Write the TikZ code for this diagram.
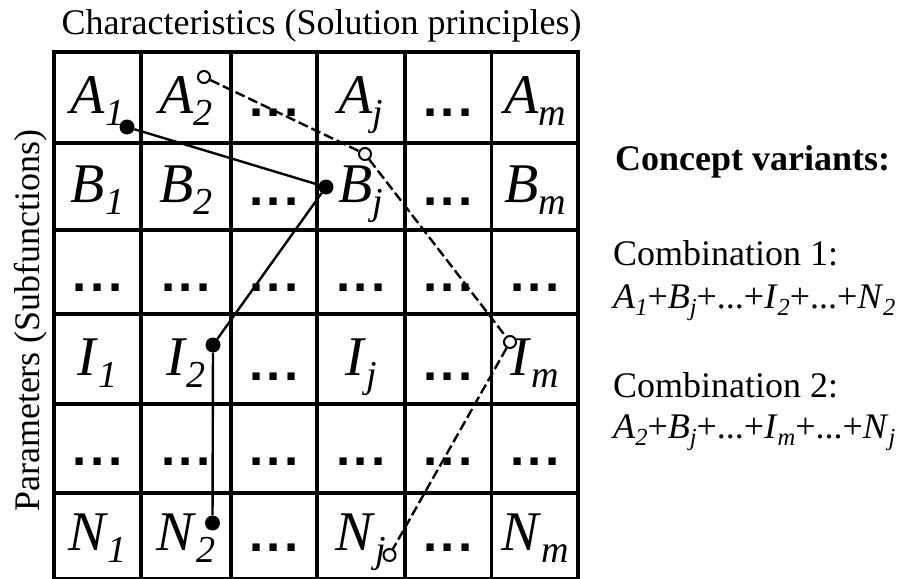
\documentclass[tikz,border=0pt]{standalone}
\usepackage{fontspec}
\setmainfont{Liberation Serif}
\newfontfamily\dotfont{Liberation Sans}
\usepackage{graphicx}
\usepackage{tikz}

\newcommand{\ent}[2]{\textit{#1}\raisebox{-0.22em}{\scalebox{0.68}{\textit{#2}}}}
\newcommand{\tridots}{.\kern0.07em.\kern0.07em.}

\begin{document}
\begin{tikzpicture}[x=1pt,y=-1pt,
  cell/.style={font=\fontsize{56}{60}\selectfont, anchor=base, inner sep=0pt},
  celldots/.style={font=\fontsize{51}{55}\selectfont\dotfont\bfseries, anchor=base, inner sep=0pt},
  txt/.style={font=\fontsize{36}{40}\selectfont, inner sep=0pt},
  dotfull/.style={circle, fill=black, inner sep=0pt, minimum size=15pt},
  dotopen/.style={circle, draw=black, fill=white, line width=2pt, inner sep=0pt, minimum size=12pt},
  link/.style={line width=2.4pt}]
  \useasboundingbox (0,0) rectangle (899,578);

  % grid
  \draw[line width=3.2pt] (54,52) -- (54,578) (141,52) -- (141,578) (231,52) -- (231,578)
    (317,52) -- (317,578) (405,52) -- (405,578) (491.5,52) -- (491.5,578) (578,52) -- (578,578);
  \draw[line width=3.2pt] (52.4,52) -- (579.6,52) (52.4,143) -- (579.6,143) (52.4,230) -- (579.6,230)
    (52.4,314) -- (579.6,314) (52.4,404) -- (579.6,404) (52.4,493) -- (579.6,493) (52.4,579) -- (579.6,579);

  % headings
  \node[txt, anchor=base] (title) at (321.5,35) {Characteristics (Solution principles)};
  \node[txt, anchor=base, rotate=90] (side) at (39,320.5) {Parameters (Subfunctions)};

  % row A
  \node[cell] (t11) at (97.5,113.5) {\ent{A}{1}};
  \node[cell] (t12) at (186,113.5) {\ent{A}{2}};
  \node[celldots] (t13) at (274,116) {\tridots};
  \node[cell] (t14) at (361,113.5) {\ent{A}{j}};
  \node[celldots] (t15) at (448,116) {\tridots};
  \node[cell] (t16) at (535,113.5) {\ent{A}{m}};
  % row B
  \node[cell] (t21) at (97.5,202.5) {\ent{B}{1}};
  \node[cell] (t22) at (186,202.5) {\ent{B}{2}};
  \node[celldots] (t23) at (274,205) {\tridots};
  \node[cell] (t24) at (361,202.5) {\ent{B}{j}};
  \node[celldots] (t25) at (448,205) {\tridots};
  \node[cell] (t26) at (535,202.5) {\ent{B}{m}};
  % row 3
  \node[celldots] (t31) at (97.5,291) {\tridots};
  \node[celldots] (t32) at (186,291) {\tridots};
  \node[celldots] (t33) at (274,291) {\tridots};
  \node[celldots] (t34) at (361,291) {\tridots};
  \node[celldots] (t35) at (448,291) {\tridots};
  \node[celldots] (t36) at (535,291) {\tridots};
  % row I
  \node[cell] (t41) at (97.5,375) {\ent{I}{1}};
  \node[cell] (t42) at (186,375) {\ent{I}{2}};
  \node[celldots] (t43) at (274,380) {\tridots};
  \node[cell] (t44) at (361,375) {\ent{I}{j}};
  \node[celldots] (t45) at (448,380) {\tridots};
  \node[cell] (t46) at (535,375) {\ent{I}{m}};
  % row 5
  \node[celldots] (t51) at (97.5,465) {\tridots};
  \node[celldots] (t52) at (186,465) {\tridots};
  \node[celldots] (t53) at (274,465) {\tridots};
  \node[celldots] (t54) at (361,465) {\tridots};
  \node[celldots] (t55) at (448,465) {\tridots};
  \node[celldots] (t56) at (535,465) {\tridots};
  % row N
  \node[cell] (t61) at (97.5,550) {\ent{N}{1}};
  \node[cell] (t62) at (186,550) {\ent{N}{2}};
  \node[celldots] (t63) at (274,551) {\tridots};
  \node[cell] (t64) at (361,550) {\ent{N}{j}};
  \node[celldots] (t65) at (448,551) {\tridots};
  \node[cell] (t66) at (535,550) {\ent{N}{m}};

  % combination 1
  \node[dotfull] (pa1) at (127,127) {};
  \node[dotfull] (pbj) at (326,187) {};
  \node[dotfull] (pi2) at (213,345) {};
  \node[dotfull] (pn2) at (212.5,523) {};
  \draw[link] (pa1) -- (pbj) -- (pi2) -- (pn2);

  % combination 2
  \node[dotopen] (qa2) at (204,77) {};
  \node[dotopen] (qbj) at (365,154) {};
  \node[dotopen] (qim) at (510,342) {};
  \node[dotopen] (qnj) at (389.5,555) {};
  \draw[link, dash pattern=on 10pt off 4pt] (qa2) -- (qbj) -- (qim) -- (qnj);

  % variants
  \node[txt, anchor=base west, font=\fontsize{36}{40}\selectfont\bfseries] (concept) at (615,170) {Concept variants:};
  \node[txt, anchor=base west] (comb1) at (613,265) {Combination 1:};
  \node[txt, anchor=base west] (form1) at (613,308) {\ent{A}{1}+\ent{B}{j}+...+\ent{I}{2}+...+\ent{N}{2}};
  \node[txt, anchor=base west] (comb2) at (613,397) {Combination 2:};
  \node[txt, anchor=base west] (form2) at (613,438) {\ent{A}{2}+\ent{B}{j}+...+\ent{I}{m}+...+\ent{N}{j}};
\end{tikzpicture}
\end{document}
